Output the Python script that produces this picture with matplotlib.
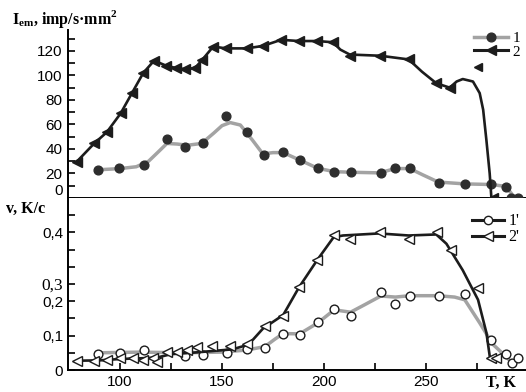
import numpy as np
import matplotlib.pyplot as plt
import matplotlib.transforms as mtransforms
from matplotlib.lines import Line2D

# --- top panel: emission intensity I_em vs T ---
# curve 1: markers (dots) and the smoothed grey line drawn under them
T1 = [89.4, 99.7, 111.8, 123.2, 131.9, 140.5, 152, 162, 170.5, 179.9, 188, 197, 205, 213,
      227.8, 235, 242, 256.2, 269, 282, 289, 291.7, 295]
I1 = [22.9, 24.2, 27.2, 48.4, 41.6, 44.6, 67, 54, 35, 37.3, 31, 24.2, 21.5, 21.5,
      20, 24.2, 24.2, 12.5, 11.2, 11.2, 9.2, 0, 0]
line1_T = [89.4, 100, 108, 114, 119, 123, 128, 133, 140, 146, 150, 154, 159, 165, 170, 175,
           180, 188, 197, 205, 213, 227, 235, 242, 248.5, 256, 269, 282, 289, 291.8, 293.4]
line1_I = [23, 24, 25.5, 30, 38, 44.5, 44, 43, 44.5, 53, 59, 61.5, 59.5, 47, 36, 37,
           37, 31, 24.2, 21.5, 21, 20.5, 24, 24, 18.8, 13, 11.5, 11, 9.5, 3.8, 0]

# curve 2: filled triangles, black line
T2 = [78.8, 87.4, 93.5, 100.3, 106, 111.4, 116.7, 122.5, 127.3, 131.9, 136.8, 140.3, 145.7,
      152, 162, 170, 179, 187.7, 196.7, 204.4, 212.6, 227.6, 241.5, 255, 261.6, 283]
I2 = [29.6, 44.6, 53.6, 69, 86, 102, 112, 108, 106, 105, 106, 112.7, 123.5,
      122, 122, 124, 129, 128, 128, 127, 116, 116, 113, 93.6, 90, 0]
line2_T = [78.8, 87.4, 93.5, 100.3, 106, 111.4, 116.7, 122.5, 127.3, 131.9, 136.8, 140.3, 145.7,
           152, 162, 170, 179, 187.7, 196.7, 204.4, 208, 212.6, 227.6, 241.5, 248, 255, 261.6,
           265, 268, 273, 276.3, 278, 279.6, 281.2, 282]
line2_I = [29.6, 44.6, 53.6, 69, 86, 102, 112, 108, 106, 105, 106, 112.7, 123.5,
           122, 122, 124, 129, 128, 128, 127, 121, 117, 116, 113, 103, 93.6, 90,
           95, 97, 95, 85.5, 72, 47, 20, 1]

# --- bottom panel: heating rate v vs T ---
T1p = [89.4, 100, 111.8, 131.9, 140.8, 152.3, 162, 171, 180, 188, 197, 205, 213, 227.8,
       235, 242, 256.2, 269, 282, 289.4, 292, 295]
v1p = [0.046, 0.048, 0.057, 0.041, 0.044, 0.049, 0.062, 0.063, 0.106, 0.103, 0.139, 0.177,
       0.158, 0.226, 0.191, 0.216, 0.214, 0.220, 0.087, 0.046, 0.020, 0.034]
line1p_T = [89.4, 110, 130, 150, 162, 171, 176, 180, 188, 197, 205, 213, 220, 227.8, 235,
            242, 256, 264, 269, 276.3, 282.7, 289, 292]
line1p_v = [0.050, 0.052, 0.050, 0.052, 0.058, 0.068, 0.090, 0.106, 0.105, 0.137, 0.175,
            0.168, 0.190, 0.215, 0.212, 0.216, 0.216, 0.212, 0.204, 0.137, 0.075, 0.040, 0.022]

T2p = [79, 87.3, 93.5, 100, 106.5, 111.4, 116.3, 118.3, 122.9, 127.8, 132.7, 137.6, 145.3,
       153.9, 162, 171, 180, 187.7, 196.7, 204.7, 212.9, 227.6, 241.5, 255.4, 262, 275.5,
       282, 284.5]
v2p = [0.027, 0.027, 0.030, 0.036, 0.036, 0.030, 0.036, 0.022, 0.051, 0.053, 0.058, 0.068,
       0.070, 0.070, 0.075, 0.127, 0.156, 0.242, 0.321, 0.391, 0.381, 0.400, 0.381, 0.400,
       0.35, 0.238, 0.036, 0.036]
line2p_T = [79, 90, 100, 110, 118, 125, 135, 145, 155, 162, 165.3, 170, 180, 187.7, 196.7,
            204.7, 209.3, 227, 241.5, 255, 260, 268, 275.5, 279.6, 281.2]
line2p_v = [0.027, 0.028, 0.032, 0.034, 0.036, 0.046, 0.050, 0.055, 0.060, 0.072, 0.089,
            0.120, 0.160, 0.240, 0.320, 0.386, 0.391, 0.397, 0.391, 0.394, 0.367, 0.290,
            0.204, 0.108, 0.041]

xticks = [100, 150, 200, 250]
top_ticks = [0, 20, 40, 60, 80, 100, 120]
bot_ticks = [0, 0.1, 0.2, 0.25, 0.4]
bot_labels = ['0', '0,1', '0,2', '0,3', '0,4']

plt.rcParams['font.family'] = 'Liberation Sans'
plt.rcParams['mathtext.fontset'] = 'custom'
plt.rcParams['mathtext.rm'] = 'Liberation Serif:bold'

GREY = '#a3a3a3'
BLK = '#1c1c1c'
DOT = '#2e2e2e'

fig = plt.figure(figsize=(5.26, 3.92), dpi=100)
ax1 = fig.add_axes([68/526, 1-198/392, 1-68/526, 168/392])
ax2 = fig.add_axes([68/526, 1-370/392, 1-68/526, 172/392])

xlo, xhi = 74.5, 299

# top panel
ax1.plot(line1_T, line1_I, color=GREY, lw=2.5, zorder=2, clip_on=False)
ax1.plot(T1, I1, 'o', color=DOT, ms=6.3, zorder=3, clip_on=False)
ax1.plot(line2_T, line2_I, color=BLK, lw=1.9, zorder=4, clip_on=False)
ax1.plot(T2, I2, '<', color=BLK, ms=6.8, zorder=5, clip_on=False)
ax1.set_xlim(xlo, xhi)
ax1.set_ylim(0, 137)
ax1.set_yticks(top_ticks)
ax1.set_yticks(np.arange(10, 140, 20), minor=True)
ax1.set_xticks([])
for s in ['top', 'right']:
    ax1.spines[s].set_visible(False)
ax1.spines['left'].set_linewidth(1.4)
ax1.spines['bottom'].set_linewidth(1.4)
ax1.tick_params(axis='y', which='both', direction='in', length=5, width=1.2, labelsize=11,
                pad=4)
# the "0" label sits a little above the axis line
lab0 = ax1.get_yticklabels()[0]
lab0.set_transform(lab0.get_transform() + mtransforms.ScaledTranslation(0, 8/100, fig.dpi_scale_trans))

# bottom panel
ax2.plot(line1p_T, line1p_v, color=GREY, lw=2.5, zorder=2, clip_on=False)
ax2.plot(T1p, v1p, 'o', mfc='white', mec=BLK, mew=1.0, ms=6.3, zorder=3, clip_on=False)
ax2.plot(line2p_T, line2p_v, color=BLK, lw=1.9, zorder=4, clip_on=False)
ax2.plot(T2p, v2p, '<', mfc='white', mec=BLK, mew=1.0, ms=6.8, zorder=5, clip_on=False)
ax2.set_xlim(xlo, xhi)
ax2.set_ylim(0, 0.5)
ax2.set_yticks(bot_ticks)
ax2.set_yticklabels(bot_labels)
ax2.set_yticks([0.05, 0.15, 0.3, 0.35, 0.45], minor=True)
ax2.set_xticks(xticks)
ax2.set_xticks([125, 175, 225, 275], minor=True)
for s in ['top', 'right']:
    ax2.spines[s].set_visible(False)
ax2.spines['left'].set_linewidth(1.4)
ax2.spines['bottom'].set_linewidth(1.4)
ax2.tick_params(axis='both', which='both', direction='in', length=5, width=1.2, labelsize=11)
lab3 = ax2.get_yticklabels()[3]
lab3.set_family('Liberation Serif')
lab3.set_fontsize(12.5)

# legends
h1 = Line2D([], [], color=GREY, lw=2.5, marker='o', mfc=DOT, mec=DOT, ms=6.3)
h2 = Line2D([], [], color=BLK, lw=2.2, marker='<', mfc=BLK, mec=BLK, ms=7)
ax1.legend([h1, h2], ['1', '2'], loc='upper right', bbox_to_anchor=(1.01, 1.055),
           frameon=False, prop={'family': 'Liberation Serif', 'size': 11},
           handlelength=2.2, handletextpad=0.3, labelspacing=0.0, borderpad=0.2)
# stray triangle printed under the legend in the original
ax1.plot([(478-68)/458], [(198-67)/168], '<', color=BLK, ms=6, transform=ax1.transAxes,
         clip_on=False)

h3 = Line2D([], [], color=BLK, lw=2.2, marker='o', mfc='white', mec=BLK, ms=6)
h4 = Line2D([], [], color=BLK, lw=2.2, marker='<', mfc='white', mec=BLK, ms=7)
ax2.legend([h3, h4], ["1'", "2'"], loc='upper right', bbox_to_anchor=(1.01, 0.975),
           frameon=False, prop={'family': 'Liberation Serif', 'size': 11.5},
           handlelength=2.0, handletextpad=0.3, labelspacing=0.0, borderpad=0.2)

# axis titles
fig.text(12/526, 1-24/392, r'I$_{\mathrm{em}}$, imp/s·mm$^{\mathrm{2}}$',
         family='Liberation Serif', weight='bold', fontsize=11.5)
fig.text(6/526, 1-213/392, 'v, K/c', family='Liberation Serif', weight='bold', fontsize=11.5)
fig.text(486/526, 1-383/392, 'T, K', family='Liberation Serif', weight='bold', fontsize=11.5,
         va='center')

plt.savefig('out.png', dpi=100)
